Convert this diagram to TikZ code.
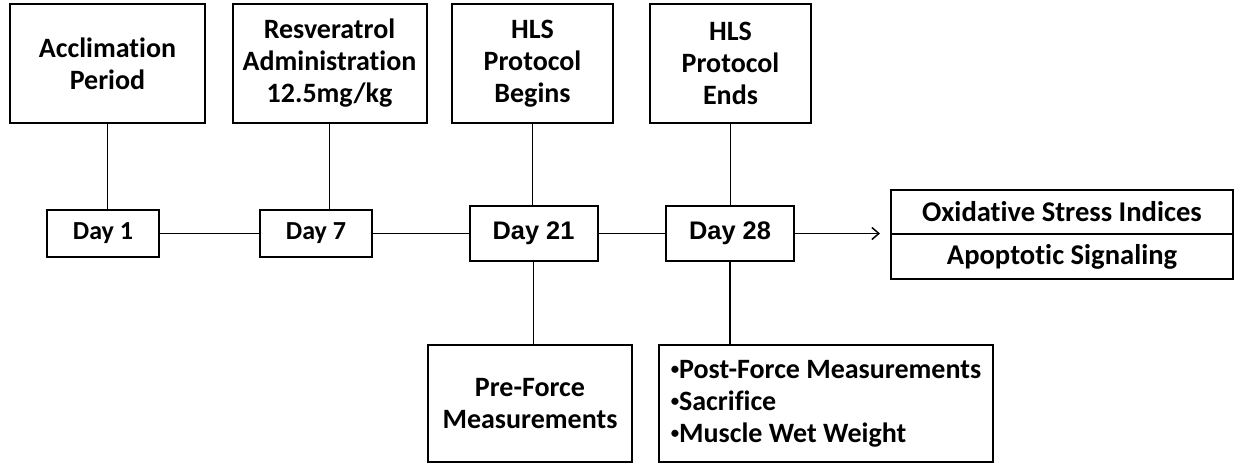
\documentclass[tikz,border=0pt]{standalone}
\usepackage{fontspec}
\setmainfont[Ligatures=NoCommon]{Carlito}
\newfontfamily\arialfont{Liberation Sans}
\usetikzlibrary{arrows,arrows.meta,shadows}
\newcommand{\smallbullet}{\raisebox{0.12em}{\scalebox{0.6}{•}}}

\begin{document}
\begin{tikzpicture}[x=0.5pt,y=-0.5pt,>={Straight Barb[length=3.5pt,width=6pt]},node distance=85pt,
                    line width=0.75pt]
  \tikzstyle{boxed}=[rectangle,draw=black,fill=white,line width=1pt,
                     drop shadow={shadow xshift=0.7pt,shadow yshift=-0.7pt,opacity=0.25}]
  \tikzstyle{event}=[boxed,align=center,inner sep=2pt,
                     font=\fontsize{14}{16}\selectfont\bfseries,minimum height=59pt]
  \tikzstyle{day}=[boxed,inner sep=0pt,
                   font=\fontsize{13}{15.9}\selectfont\bfseries,minimum width=56pt,minimum height=23.5pt]
  \tikzstyle{bigday}=[day,font=\arialfont\fontsize{12.7}{15}\selectfont\bfseries,
                      minimum width=64pt,minimum height=27.5pt]
  \tikzstyle{result}=[boxed,inner sep=0pt,
                      font=\fontsize{14.3}{16}\selectfont\bfseries,minimum width=171pt,minimum height=22pt]

  \useasboundingbox (0,0) rectangle (1234,465);

  \node[day]    (D1)  at (103,233.5)   {Day 1};
  \node[day]    (D7)  at (316,233.5)   {Day 7};
  \node[bigday] (D21) at (533.5,233.5) {Day 21};
  \node[bigday] (D28) at (730,233.5)   {Day 28};

  \node[event]  (Acc)  [above of=D1, xshift=2.25pt, minimum width=97.5pt] {Acclimation\\Period};
  \node[event]  (Res)  [above of=D7, xshift=6.75pt, minimum width=97pt] {Resveratrol\\Administration\\12.5mg/kg};
  \node[event]  (HLSb) [above of=D21, xshift=-0.5pt, minimum width=80.5pt] {HLS\\Protocol\\Begins};
  \node[event]  (HLSe) [above of=D28, xshift=0.25pt, minimum width=80.5pt] {HLS\\Protocol\\Ends};
  \node[event]  (Pre)  [below of=D21, xshift=-1.75pt, minimum width=102pt, minimum height=58.5pt] {Pre-Force\\Measurements};
  \node[event]  (Post) [below of=D28, xshift=48pt, minimum width=167pt, minimum height=58.5pt, align=left]
                {\smallbullet Post-Force Measurements\\\smallbullet Sacrifice\\\smallbullet Muscle Wet Weight};

  \node[result] (Ox)   at (1062,212) {Oxidative Stress Indices};
  \node[result] (Apo)  [below of=Ox, node distance=22.25pt, minimum height=22.5pt] {Apoptotic Signaling};

  \path (D1)  edge (D7)
        (D7)  edge (D21)
        (D21) edge (D28)
        (Acc.south)  edge (Acc.south |- D1.north)
        (Res.south)  edge (Res.south |- D7.north)
        (HLSb.south) edge (HLSb.south |- D21.north)
        (HLSe.south) edge (HLSe.south |- D28.north)
        (D21.south)  edge (D21.south |- Pre.north)
        (D28.south)  edge (D28.south |- Post.north)
        (D28.east)   edge [->, shorten >=5pt] (D28.east -| Ox.south west);
\end{tikzpicture}
\end{document}
